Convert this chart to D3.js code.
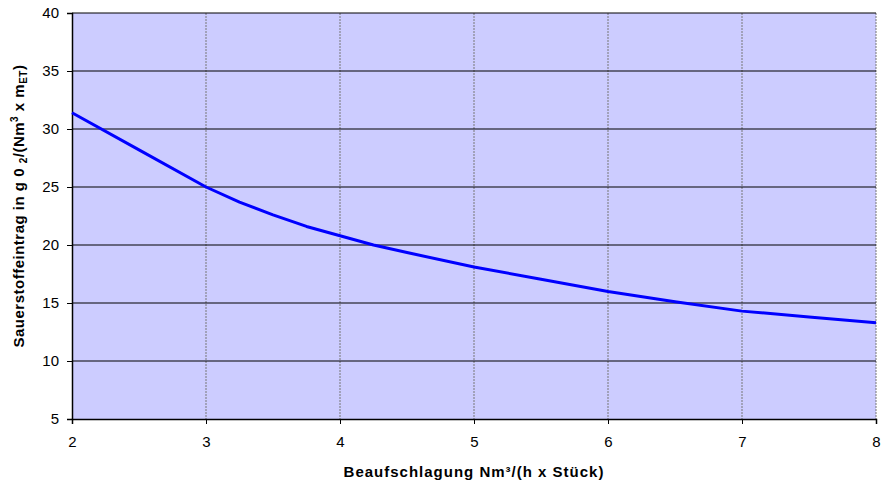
<!DOCTYPE html>
<html>
<head>
<meta charset="utf-8">
<script src="https://cdn.jsdelivr.net/npm/d3@7"></script>
<style>
  body { margin: 0; background: #fff; }
  svg { font-family: "Liberation Sans", Arial, sans-serif; }
</style>
</head>
<body>
<div id="chart"></div>
<script>
// Beaufschlagung (x) vs. Sauerstoffeintrag (y)
const xValues = [2, 2.5, 3, 3.25, 3.5, 3.75, 4, 4.25, 4.5, 5, 5.5, 6, 6.5, 7, 7.5, 8];
const yValues = [31.4, 28.2, 25.0, 23.7, 22.6, 21.6, 20.8, 20.0, 19.35, 18.1, 17.05, 16.0, 15.1, 14.3, 13.8, 13.3];
const xTicks = [2, 3, 4, 5, 6, 7, 8];
const yTicks = [5, 10, 15, 20, 25, 30, 35, 40];

const width = 881, height = 484;
const margin = { left: 72, right: 5, top: 13, bottom: 65 };

const svg = d3.select('#chart').append('svg')
  .attr('width', width)
  .attr('height', height);

const x = d3.scaleLinear().domain([2, 8]).range([margin.left, width - margin.right]);
const y = d3.scaleLinear().domain([5, 40]).range([height - margin.bottom, margin.top]);

// plot background
svg.append('rect')
  .attr('x', x(2)).attr('y', y(40))
  .attr('width', x(8) - x(2)).attr('height', y(5) - y(40))
  .attr('fill', '#ccccff');

// vertical grid (dashed)
svg.append('g')
  .selectAll('line')
  .data(xTicks.slice(1))
  .join('line')
  .attr('x1', d => x(d)).attr('x2', d => x(d))
  .attr('y1', y(40)).attr('y2', y(5))
  .attr('stroke', '#777')
  .attr('stroke-width', 1)
  .attr('stroke-dasharray', '2,1');

// horizontal grid (solid)
svg.append('g')
  .selectAll('line')
  .data(yTicks.slice(1))
  .join('line')
  .attr('x1', x(2)).attr('x2', x(8))
  .attr('y1', d => y(d)).attr('y2', d => y(d))
  .attr('stroke', '#000')
  .attr('stroke-width', 1);

// axes
const xAxis = svg.append('g')
  .attr('transform', `translate(0,${y(5)})`)
  .call(d3.axisBottom(x).tickValues(xTicks).tickSize(5).tickPadding(12).tickFormat(d3.format('d')));
const yAxis = svg.append('g')
  .attr('transform', `translate(${x(2)},0)`)
  .call(d3.axisLeft(y).tickValues(yTicks).tickSize(5).tickPadding(8).tickFormat(d3.format('d')));

[xAxis, yAxis].forEach(a => {
  a.select('.domain').attr('stroke', '#000').attr('stroke-width', 1.5);
  a.selectAll('.tick line').attr('stroke', '#000');
  a.selectAll('.tick text').attr('font-size', 15).attr('fill', '#000')
    .attr('font-family', '"Liberation Sans", Arial, sans-serif');
});

// curve
const pts = xValues.map((v, i) => [v, yValues[i]]);
svg.append('path')
  .datum(pts)
  .attr('fill', 'none')
  .attr('stroke', '#0000ff')
  .attr('stroke-width', 3)
  .attr('stroke-linejoin', 'round')
  .attr('d', d3.line().x(d => x(d[0])).y(d => y(d[1])));

// x axis title
svg.append('text')
  .attr('x', (x(2) + x(8)) / 2)
  .attr('y', 477)
  .attr('text-anchor', 'middle')
  .attr('font-size', 15)
  .attr('font-weight', 'bold')
  .attr('letter-spacing', 1)
  .text('Beaufschlagung Nm³/(h x Stück)');

// y axis title with sub/superscripts
const yt = svg.append('text')
  .attr('transform', 'translate(24,206) rotate(-90)')
  .attr('text-anchor', 'middle')
  .attr('font-size', 15)
  .attr('font-weight', 'bold')
  .attr('letter-spacing', 0.5);
yt.append('tspan').text('Sauerstoffeintrag in g 0  ');
yt.append('tspan').attr('font-size', 10).attr('dy', 3).text('2');
yt.append('tspan').attr('dy', -3).text('/(Nm');
yt.append('tspan').attr('font-size', 10).attr('dy', -6).text('3');
yt.append('tspan').attr('dy', 6).text(' x m');
yt.append('tspan').attr('font-size', 10).attr('dy', 3).text('ET');
yt.append('tspan').attr('dy', -3).text(')');
</script>
</body>
</html>
